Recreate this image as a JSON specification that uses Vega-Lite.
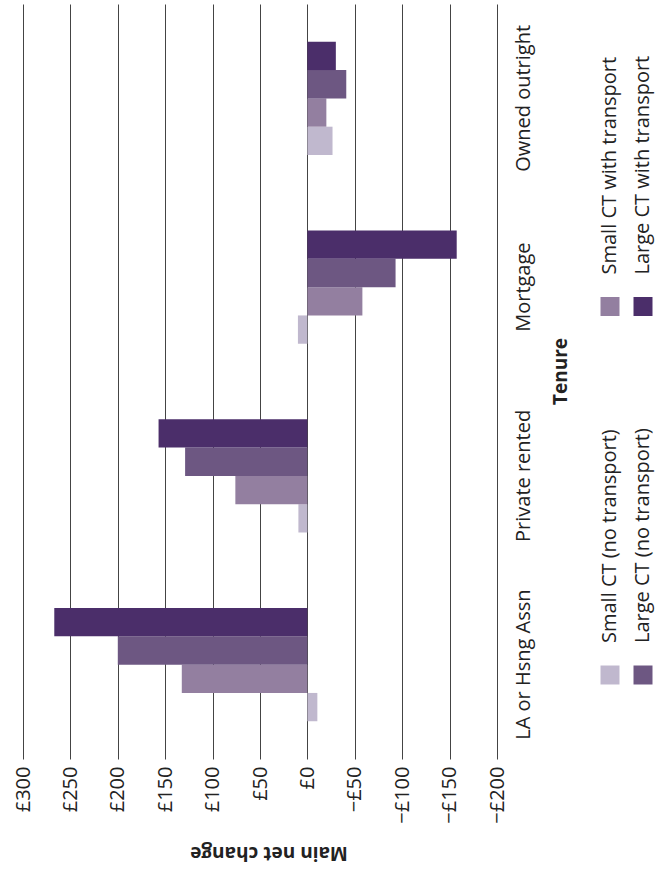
{
  "$schema": "https://vega.github.io/schema/vega-lite/v6.json",
  "width": 474,
  "height": 755,
  "autosize": {"type": "none"},
  "padding": {"left": 23, "top": 4, "right": 159, "bottom": 113},
  "background": "white",
  "config": {
    "view": {"stroke": null},
    "font": "Open Sans",
    "axis": {
      "labelFont": "Open Sans",
      "labelFontSize": 20,
      "labelColor": "#222222",
      "titleFont": "Open Sans",
      "titleFontSize": 19,
      "titleFontWeight": "bold",
      "titleColor": "#222222"
    }
  },
  "datasets": {
    "bars": [
      {"tenure": "LA or Hsng Assn", "series": "Small CT (no transport)", "change": -10.5},
      {"tenure": "LA or Hsng Assn", "series": "Small CT with transport", "change": 132.5},
      {"tenure": "LA or Hsng Assn", "series": "Large CT (no transport)", "change": 200},
      {"tenure": "LA or Hsng Assn", "series": "Large CT with transport", "change": 267},
      {"tenure": "Private rented", "series": "Small CT (no transport)", "change": 9.5},
      {"tenure": "Private rented", "series": "Small CT with transport", "change": 76},
      {"tenure": "Private rented", "series": "Large CT (no transport)", "change": 129},
      {"tenure": "Private rented", "series": "Large CT with transport", "change": 157},
      {"tenure": "Mortgage", "series": "Small CT (no transport)", "change": 10},
      {"tenure": "Mortgage", "series": "Small CT with transport", "change": -58},
      {"tenure": "Mortgage", "series": "Large CT (no transport)", "change": -93},
      {"tenure": "Mortgage", "series": "Large CT with transport", "change": -157.5},
      {"tenure": "Owned outright", "series": "Small CT (no transport)", "change": -26.5},
      {"tenure": "Owned outright", "series": "Small CT with transport", "change": -20},
      {"tenure": "Owned outright", "series": "Large CT (no transport)", "change": -41},
      {"tenure": "Owned outright", "series": "Large CT with transport", "change": -30}
    ],
    "legend": [
      {"series": "Small CT (no transport)", "size": "Small", "transport": "no"},
      {"series": "Small CT with transport", "size": "Small", "transport": "with"},
      {"series": "Large CT (no transport)", "size": "Large", "transport": "no"},
      {"series": "Large CT with transport", "size": "Large", "transport": "with"}
    ]
  },
  "layer": [
    {
      "data": {"name": "bars"},
      "mark": {"type": "bar"},
      "encoding": {
        "x": {
          "field": "change",
          "type": "quantitative",
          "scale": {"domain": [-200, 300], "reverse": true, "nice": false},
          "axis": {
            "orient": "bottom",
            "values": [-200, -150, -100, -50, 0, 50, 100, 150, 200, 250, 300],
            "labelExpr": "datum.value < 0 ? '−£' + (-datum.value) : '£' + datum.value",
            "labelAngle": -90,
            "labelAlign": "right",
            "labelBaseline": "middle",
            "labelPadding": 7,
            "labelFlush": false,
            "labelOverlap": false,
            "ticks": false,
            "domain": false,
            "grid": true,
            "gridColor": "#444444",
            "gridWidth": 1,
            "title": "Main net change",
            "titleAngle": 180,
            "titleAlign": "center",
            "titleBaseline": "alphabetic",
            "titleX": 245.5,
            "titleY": 87.5
          }
        },
        "y": {
          "field": "tenure",
          "type": "nominal",
          "sort": ["Owned outright", "Mortgage", "Private rented", "LA or Hsng Assn"],
          "scale": {"paddingInner": 0.4, "paddingOuter": 0.2},
          "axis": {
            "orient": "right",
            "labelAngle": -90,
            "labelAlign": "center",
            "labelBaseline": "top",
            "labelPadding": 16.5,
            "labelLimit": 0,
            "ticks": false,
            "domain": false,
            "grid": false,
            "title": "Tenure",
            "titleAngle": -90,
            "titleAlign": "center",
            "titleBaseline": "top",
            "titleX": 54.6,
            "titleY": 367
          }
        },
        "yOffset": {
          "field": "series",
          "type": "nominal",
          "sort": ["Large CT with transport", "Large CT (no transport)", "Small CT with transport", "Small CT (no transport)"],
          "scale": {"paddingInner": 0, "paddingOuter": 0}
        },
        "color": {
          "field": "series",
          "type": "nominal",
          "scale": {
            "domain": ["Small CT (no transport)", "Small CT with transport", "Large CT (no transport)", "Large CT with transport"],
            "range": ["#c0b8ce", "#937fa0", "#6d5782", "#4b2e6a"]
          },
          "legend": null
        }
      }
    },
    {
      "data": {"name": "legend"},
      "encoding": {
        "x": {
          "field": "size",
          "type": "nominal",
          "scale": {"type": "point", "domain": ["Small", "Large"], "range": [587, 620], "padding": 0},
          "axis": null
        },
        "y": {
          "field": "transport",
          "type": "nominal",
          "scale": {"type": "point", "domain": ["no", "with"], "range": [671, 302.5], "padding": 0},
          "axis": null
        },
        "color": {
          "field": "series",
          "type": "nominal",
          "scale": {
            "domain": ["Small CT (no transport)", "Small CT with transport", "Large CT (no transport)", "Large CT with transport"],
            "range": ["#c0b8ce", "#937fa0", "#6d5782", "#4b2e6a"]
          },
          "legend": null
        }
      },
      "layer": [
        {"mark": {"type": "point", "shape": "square", "filled": true, "size": 361, "opacity": 1, "strokeWidth": 0}},
        {
          "mark": {"type": "text", "angle": -90, "align": "left", "baseline": "middle", "dx": 32, "fontSize": 20, "font": "Open Sans", "color": "#222222"},
          "encoding": {"text": {"field": "series"}, "color": {"value": "#222222"}}
        }
      ]
    }
  ],
  "resolve": {"scale": {"x": "independent", "y": "independent"}}
}
